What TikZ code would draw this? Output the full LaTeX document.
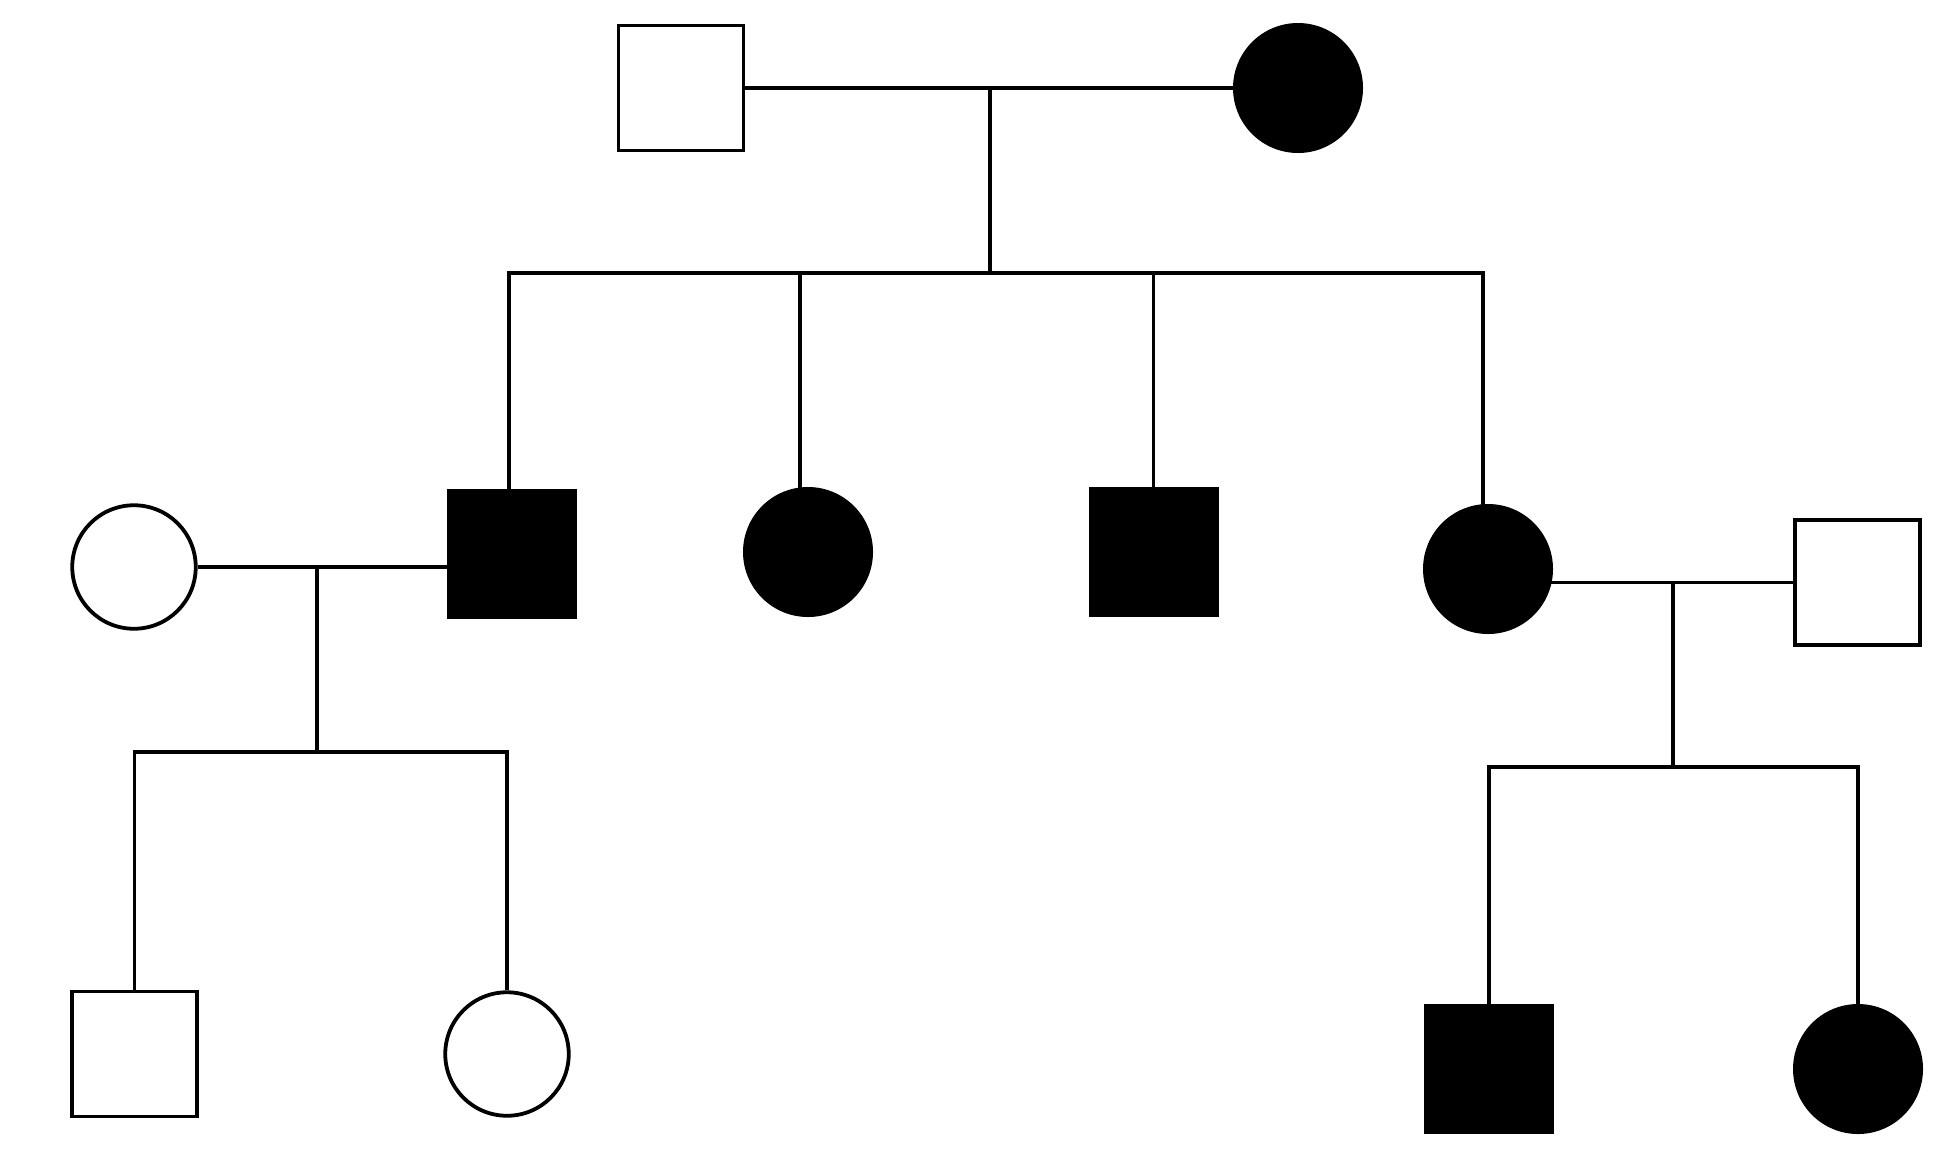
\documentclass[tikz,border=0pt]{standalone}
\begin{document}
\begin{tikzpicture}[x=0.5pt,y=-0.5pt,
  line width=1.9pt, line join=miter,
  male/.style={rectangle, draw, fill=white, minimum size=62.5pt, inner sep=0pt},
  female/.style={circle, draw, fill=white, minimum size=61.75pt, inner sep=0pt},
  malefilled/.style={rectangle, fill=black, draw=none, minimum size=65pt, inner sep=0pt},
  femalefilled/.style={circle, fill=black, draw=none, minimum size=65pt, inner sep=0pt}]
\useasboundingbox (0,0) rectangle (1946,1158);

% generation I
\node[male]         (gf)  at (681,88)   {};
\node[femalefilled] (gm)  at (1298,88)  {};

% generation II
\node[female]       (w1)  at (134,567)  {};
\node[malefilled]   (s1)  at (512,554)  {};
\node[femalefilled] (d2)  at (808,552)  {};
\node[malefilled]   (s3)  at (1153.5,552) {};
\node[femalefilled] (d4)  at (1488,569) {};
\node[male]         (h4)  at (1857.5,582.5) {};

% generation III
\node[male]         (gc1) at (134.5,1054) {};
\node[female]       (gc2) at (507,1054)   {};
\node[malefilled]   (gc3) at (1489,1069)  {};
\node[femalefilled] (gc4) at (1858,1069)  {};

% mating and sibship points
\coordinate (m1) at (990,88);
\coordinate (k1) at (990,273);
\coordinate (t1) at (509,273);
\coordinate (t2) at (800,273);
\coordinate (t4) at (1483,273);
\coordinate (m2) at (317,569);
\coordinate (k2) at (317,752);
\coordinate (m3) at (1673,582.5);
\coordinate (k3) at (1673,767);

% family of generation I (lines into filled symbols end inside the fill)
\draw (gf.east) -- (gm.center);
\draw (m1) -- (k1);
\draw (t1 |- s1.center) -- (t1) -- (t4) -- (t4 |- d4.center);
\draw (t2) -- (t2 |- d2.center);
\draw (s3.center |- k1) -- (s3.center);

% left family
\draw (w1.east) -- (w1.east -| s1.center);
\draw (m2) -- (k2);
\draw (gc1.north) |- (k2) -| (gc2.north);

% right family
\draw (d4 |- h4.west) -- (h4.west);
\draw (m3) -- (k3);
\draw (gc3.center) |- (k3) -| (gc4.center);
\end{tikzpicture}
\end{document}
